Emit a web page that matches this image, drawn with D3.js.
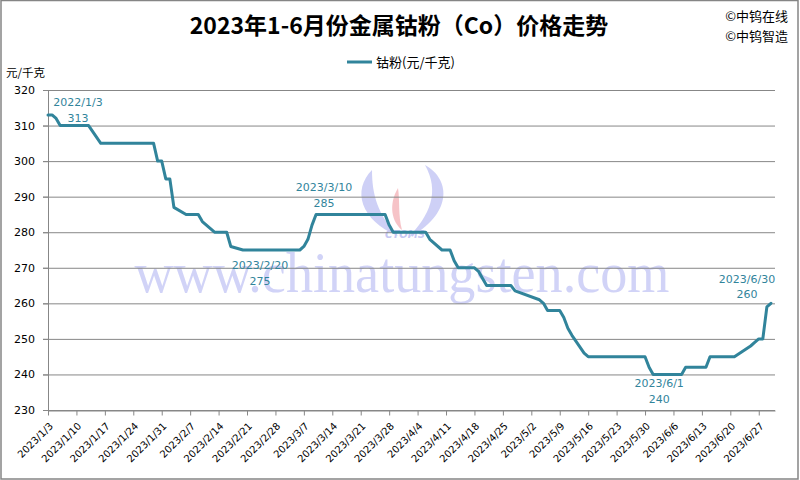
<!DOCTYPE html>
<html>
<head>
<meta charset="utf-8">
<script src="https://cdn.jsdelivr.net/npm/d3@7/dist/d3.min.js"></script>
<style>
  html, body { margin: 0; padding: 0; background: #fff; }
  svg { display: block; }
</style>
</head>
<body>
<svg id="chart" width="800" height="480"></svg>
<script>
// ---------------- DATA ----------------
const chartTitle = "2023年1-6月份金属钴粉（Co）价格走势";
const seriesName = "钴粉(元/千克)";
const yUnit = "元/千克";
const credits = ["©中钨在线", "©中钨智造"];

const dates = [
  "2023-01-03","2023-01-04","2023-01-05","2023-01-06","2023-01-09","2023-01-10","2023-01-11","2023-01-12","2023-01-13",
  "2023-01-16","2023-01-17","2023-01-18","2023-01-19","2023-01-20","2023-01-28","2023-01-29","2023-01-30","2023-01-31",
  "2023-02-01","2023-02-02","2023-02-03","2023-02-06","2023-02-07","2023-02-08","2023-02-09","2023-02-10",
  "2023-02-13","2023-02-14","2023-02-15","2023-02-16","2023-02-17","2023-02-20","2023-02-21","2023-02-22","2023-02-23","2023-02-24",
  "2023-02-27","2023-02-28","2023-03-01","2023-03-02","2023-03-03","2023-03-06","2023-03-07","2023-03-08","2023-03-09","2023-03-10",
  "2023-03-13","2023-03-14","2023-03-15","2023-03-16","2023-03-17","2023-03-20","2023-03-21","2023-03-22","2023-03-23","2023-03-24",
  "2023-03-27","2023-03-28","2023-03-29","2023-03-30","2023-03-31","2023-04-03","2023-04-04","2023-04-06","2023-04-07",
  "2023-04-10","2023-04-11","2023-04-12","2023-04-13","2023-04-14","2023-04-17","2023-04-18","2023-04-19","2023-04-20","2023-04-21",
  "2023-04-23","2023-04-24","2023-04-25","2023-04-26","2023-04-27","2023-04-28","2023-05-04","2023-05-05","2023-05-06",
  "2023-05-08","2023-05-09","2023-05-10","2023-05-11","2023-05-12","2023-05-15","2023-05-16","2023-05-17","2023-05-18","2023-05-19",
  "2023-05-22","2023-05-23","2023-05-24","2023-05-25","2023-05-26","2023-05-29","2023-05-30","2023-05-31",
  "2023-06-01","2023-06-02","2023-06-05","2023-06-06","2023-06-07","2023-06-08","2023-06-09","2023-06-12","2023-06-13","2023-06-14",
  "2023-06-15","2023-06-16","2023-06-19","2023-06-20","2023-06-21","2023-06-25","2023-06-26","2023-06-27","2023-06-28","2023-06-29","2023-06-30"
];
const prices = [
  313,313,312,310,310,310,310,310,310,
  305,305,305,305,305,305,305,300,300,
  295,295,287,285,285,285,285,283,
  280,280,280,280,276,275,275,275,275,275,
  275,275,275,275,275,275,276,278,282,285,
  285,285,285,285,285,285,285,285,285,285,
  285,282,280,280,280,280,280,280,278,
  275,275,275,272,270,270,270,269,267,265,
  265,265,265,265,265,263.5,261,260,258,
  258,258,256,253,251,246,245,245,245,245,
  245,245,245,245,245,245,245,242,
  240,240,240,240,240,240,242,242,242,242,
  245,245,245,245,245,248,249,250,250,259,260
];
const yTicks = [230,240,250,260,270,280,290,300,310,320];
const xTickLabels = ["2023/1/3","2023/1/10","2023/1/17","2023/1/24","2023/1/31","2023/2/7","2023/2/14","2023/2/21",
  "2023/2/28","2023/3/7","2023/3/14","2023/3/21","2023/3/28","2023/4/4","2023/4/11","2023/4/18","2023/4/25",
  "2023/5/2","2023/5/9","2023/5/16","2023/5/23","2023/5/30","2023/6/6","2023/6/13","2023/6/20","2023/6/27"];
const annotationDates = ["2023-01-03","2023-02-20","2023-03-10","2023-06-01","2023-06-30"];
const annotationTexts = ["2022/1/3","2023/2/20","2023/3/10","2023/6/1","2023/6/30"];
const annotationValues = [313,275,285,240,260];

// ---------------- CHART ----------------
const W = 800, H = 480;
const svg = d3.select("#chart");
const parse = d3.timeParse("%Y-%m-%d");
const parseLbl = d3.timeParse("%Y/%m/%d");
const lineColor = "#31849B";
const gridColor = "#878787";

const data = dates.map((d, i) => ({ date: parse(d), value: prices[i] }));

const x = d3.scaleTime()
  .domain([parse("2023-01-03"), parse("2023-07-01")])
  .range([48, 775]);
const y = d3.scaleLinear().domain([230, 320]).range([410, 90]);

// background + border
svg.append("rect").attr("x", 0).attr("y", 0).attr("width", W).attr("height", H).attr("fill", "#fff");
svg.append("rect").attr("x", 1).attr("y", 0.5).attr("width", 797).attr("height", 478.5)
  .attr("fill", "none").attr("stroke", "#858585").attr("stroke-width", 1.5);

// watermark
const wm = svg.append("g").attr("class", "watermark");
wm.append("text")
  .attr("x", 402).attr("y", 292)
  .attr("text-anchor", "middle")
  .attr("font-family", "'Liberation Serif', 'DejaVu Serif', serif")
  .attr("font-size", 56)
  .attr("textLength", 535).attr("lengthAdjust", "spacingAndGlyphs")
  .attr("fill", "#c9cbf6").attr("fill-opacity", 0.85)
  .text("www.chinatungsten.com");
wm.append("path")
  .attr("d", "M372,170 C352,190 360,220 398,236 C378,215 372,195 372,170 Z")
  .attr("fill", "#c6c8f4").attr("fill-opacity", 0.85);
wm.append("path")
  .attr("d", "M425,165 C452,180 452,215 408,238 C430,215 440,192 425,165 Z")
  .attr("fill", "#c6c8f4").attr("fill-opacity", 0.85);
wm.append("path")
  .attr("d", "M398,188 C388,205 392,222 402,230 C398,215 400,200 398,188 Z")
  .attr("fill", "#f4b8bd").attr("fill-opacity", 0.85);
wm.append("text")
  .attr("x", 405).attr("y", 238)
  .attr("text-anchor", "middle")
  .attr("font-family", "'DejaVu Sans', sans-serif")
  .attr("font-style", "italic").attr("font-weight", "bold")
  .attr("font-size", 10)
  .attr("fill", "#c6c8f4")
  .text("CTOMS");

// gridlines
svg.append("g")
  .selectAll("line")
  .data(yTicks)
  .join("line")
  .attr("x1", 43).attr("x2", 775)
  .attr("y1", d => y(d) + 0.5).attr("y2", d => y(d) + 0.5)
  .attr("stroke", gridColor).attr("stroke-width", 1);

// y axis
const yAxis = svg.append("g")
  .attr("transform", "translate(48,0)")
  .call(d3.axisLeft(y).tickValues(yTicks).tickSize(5).tickPadding(8).tickFormat(d3.format("d")));
yAxis.select(".domain").attr("stroke", gridColor);
yAxis.selectAll(".tick line").attr("stroke", gridColor);
yAxis.selectAll("text")
  .attr("font-family", "'DejaVu Sans', sans-serif")
  .attr("font-size", 11)
  .attr("fill", "#000");

// x axis
const xTickDates = xTickLabels.map(s => parseLbl(s));
const xAxis = svg.append("g")
  .attr("transform", "translate(0,410.5)")
  .call(d3.axisBottom(x).tickValues(xTickDates).tickSize(5).tickSizeOuter(0)
    .tickFormat((d, i) => xTickLabels[i]));
xAxis.select(".domain").attr("stroke", gridColor);
xAxis.selectAll(".tick line").attr("stroke", gridColor);
xAxis.selectAll("text")
  .attr("font-family", "'DejaVu Sans', sans-serif")
  .attr("font-size", 10)
  .attr("fill", "#000")
  .attr("text-anchor", "end")
  .attr("dy", "0.35em")
  .attr("transform", "translate(-3,8) rotate(-45)");

// series line
const line = d3.line().x(d => x(d.date)).y(d => y(d.value));
svg.append("path")
  .datum(data)
  .attr("d", line)
  .attr("fill", "none")
  .attr("stroke", lineColor)
  .attr("stroke-width", 3)
  .attr("stroke-linejoin", "round")
  .attr("stroke-linecap", "round");

// annotations (offsets relative to the data point)
const annOffsets = [
  { dx: 30, dy1: -13, dy2: 3 },
  { dx: 17, dy1: 15, dy2: 31 },
  { dx: 8, dy1: -27, dy2: -11 },
  { dx: 6, dy1: 9, dy2: 25 },
  { dx: -24, dy1: -24, dy2: -9 }
];
const annG = svg.append("g")
  .attr("font-family", "'DejaVu Sans', sans-serif")
  .attr("font-size", 11)
  .attr("fill", lineColor)
  .attr("text-anchor", "middle");
annotationDates.forEach((d, i) => {
  const px = x(parse(d)), py = y(annotationValues[i]);
  const o = annOffsets[i];
  annG.append("text").attr("x", px + o.dx).attr("y", py + o.dy1).attr("dy", "0.35em").text(annotationTexts[i]);
  annG.append("text").attr("x", px + o.dx).attr("y", py + o.dy2).attr("dy", "0.35em").text(annotationValues[i]);
});

// title
svg.append("text")
  .attr("x", 399).attr("y", 26).attr("dy", "0.35em")
  .attr("text-anchor", "middle")
  .attr("font-family", "'Noto Sans CJK SC', sans-serif")
  .attr("font-weight", "bold")
  .attr("font-size", 23)
  .attr("fill", "#000")
  .text(chartTitle);

// credits
svg.append("g")
  .selectAll("text")
  .data(credits)
  .join("text")
  .attr("x", 788).attr("y", (d, i) => 16 + i * 20).attr("dy", "0.35em")
  .attr("text-anchor", "end")
  .attr("font-family", "'Noto Sans CJK SC', sans-serif")
  .attr("font-size", 13)
  .attr("fill", "#000")
  .text(d => d);

// legend
const lg = svg.append("g");
lg.append("line").attr("x1", 347).attr("x2", 372).attr("y1", 62).attr("y2", 62)
  .attr("stroke", lineColor).attr("stroke-width", 3);
lg.append("text").attr("x", 376).attr("y", 62).attr("dy", "0.35em")
  .attr("font-family", "'Noto Sans CJK SC', sans-serif")
  .attr("font-size", 13).attr("fill", "#000")
  .text(seriesName);

// y unit
svg.append("text").attr("x", 6).attr("y", 73).attr("dy", "0.35em")
  .attr("font-family", "'Noto Sans CJK SC', sans-serif")
  .attr("font-size", 11.5).attr("fill", "#000")
  .text(yUnit);
</script>
</body>
</html>
